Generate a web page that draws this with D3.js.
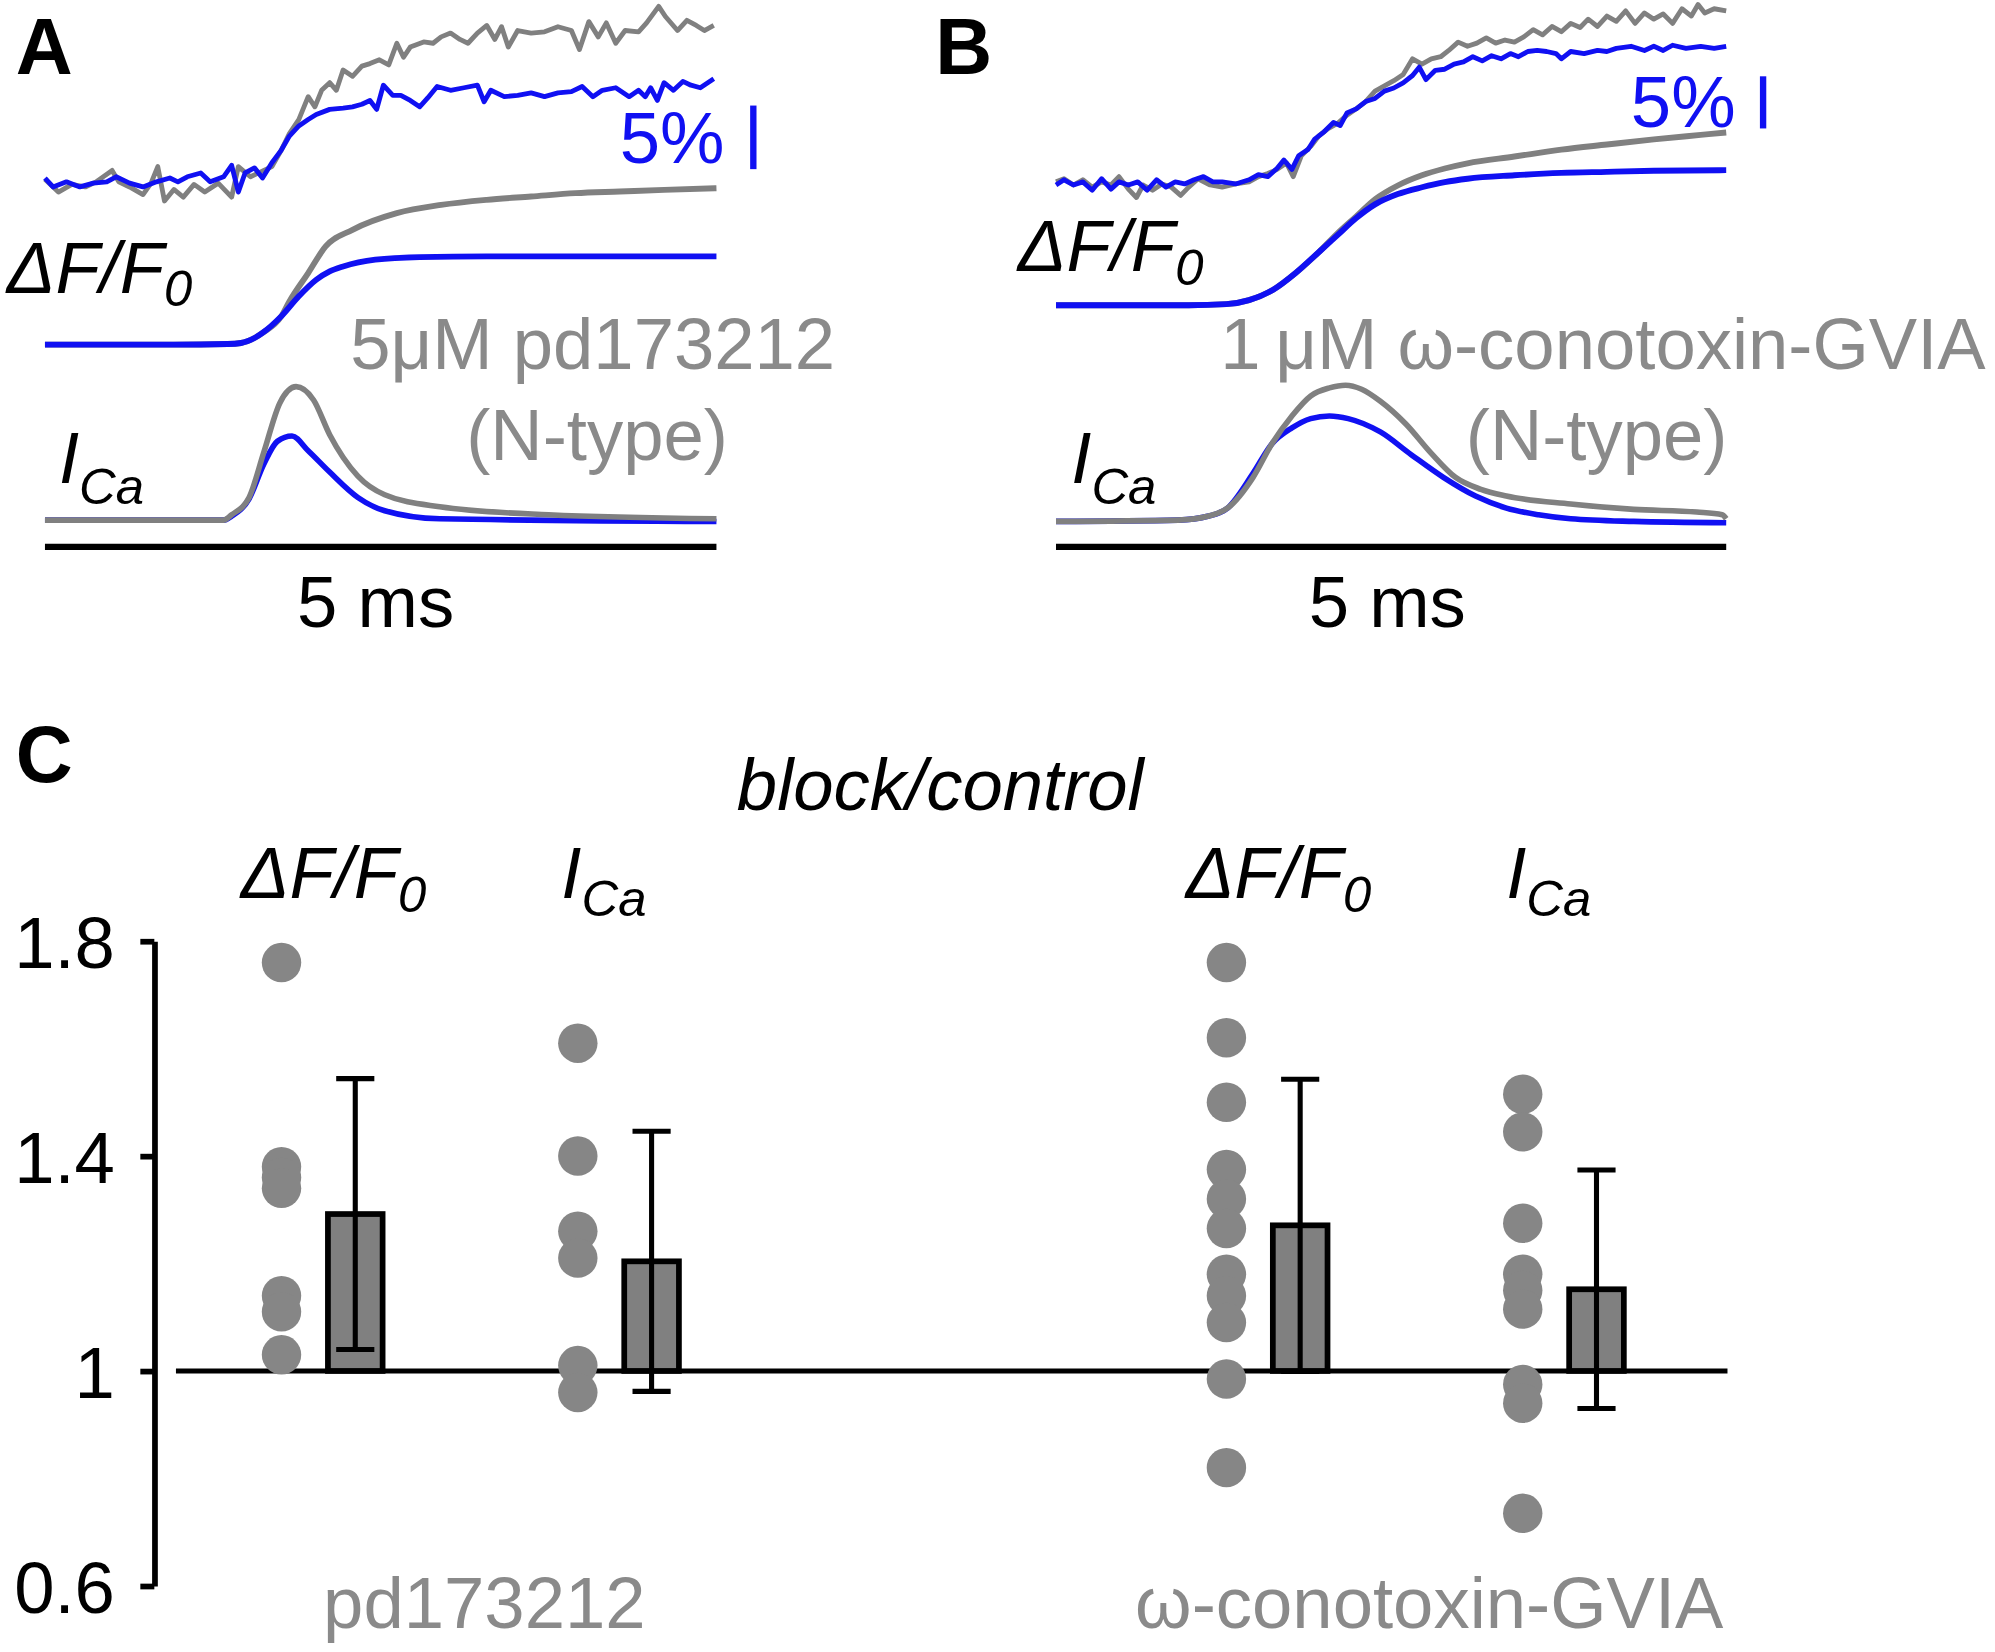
<!DOCTYPE html>
<html lang="en">
<head>
    <meta charset="UTF-8">
    <title>N-type block: dF/F0 and ICa</title>
    <script src="https://cdnjs.cloudflare.com/ajax/libs/d3/7.8.5/d3.min.js"></script>
    <style>
        body { margin: 0; background: #fff; }
        svg text { font-family: "Liberation Sans", Arial, sans-serif; }
    </style>
</head>
<body>
<svg id="fig"></svg>
<script>
    // ---- panel A / B traces: [time ms, value] ----
    // raw dF/F0 in %, control (gray) and block (blue)
    const pdRawControl = [[0,0.2],[0.1,-0.8],[0.2,-0.2],[0.3,-0.4],[0.38,0.0],[0.5,0.9],[0.55,0.0],[0.63,-0.4],[0.73,-1.0],[0.79,-0.1],[0.84,1.2],[0.89,-1.5],[0.96,-0.6],[1.03,-1.2],[1.11,-0.2],[1.19,-0.8],[1.29,-0.1],[1.39,-1.2],[1.44,1.2],[1.53,0.4],[1.63,0.9],[1.69,1.2],[1.76,2.5],[1.82,3.8],[1.89,4.9],[1.96,6.7],[2.01,5.9],[2.06,7.2],[2.12,7.8],[2.17,7.2],[2.22,8.8],[2.29,8.3],[2.36,9.1],[2.42,9.3],[2.49,9.6],[2.56,9.2],[2.62,10.9],[2.67,9.8],[2.72,10.6],[2.82,11.0],[2.89,10.9],[2.95,11.4],[3.02,11.7],[3.09,11.2],[3.15,10.9],[3.22,11.7],[3.29,12.3],[3.35,11.2],[3.4,12.2],[3.45,10.6],[3.52,11.9],[3.62,11.7],[3.72,11.8],[3.82,12.2],[3.92,11.9],[3.98,10.4],[4.05,12.6],[4.12,11.4],[4.18,12.5],[4.25,10.9],[4.32,11.9],[4.42,11.8],[4.48,12.5],[4.57,13.8],[4.62,13.0],[4.71,11.9],[4.78,12.7],[4.85,12.3],[4.91,11.9],[4.98,12.3]];
    const pdRawBlock = [[0,0.3],[0.06,-0.4],[0.16,0.0],[0.26,-0.4],[0.36,-0.1],[0.46,0.0],[0.53,0.4],[0.63,-0.1],[0.73,-0.4],[0.83,0.0],[0.93,0.3],[0.99,0.0],[1.06,0.4],[1.16,0.7],[1.23,0.0],[1.33,0.4],[1.39,1.3],[1.44,-0.8],[1.49,0.7],[1.56,1.1],[1.62,0.3],[1.69,1.5],[1.76,2.5],[1.82,3.6],[1.89,4.4],[1.96,4.9],[2.02,5.3],[2.12,5.7],[2.22,5.8],[2.29,5.9],[2.36,6.1],[2.42,6.4],[2.47,5.7],[2.52,7.6],[2.59,6.8],[2.65,6.8],[2.72,6.4],[2.79,5.9],[2.85,6.6],[2.92,7.5],[3.02,7.2],[3.12,7.4],[3.22,7.6],[3.27,6.3],[3.32,7.2],[3.42,6.7],[3.52,6.8],[3.62,7.0],[3.72,6.7],[3.82,7.0],[3.92,7.1],[4.0,7.5],[4.08,6.7],[4.15,7.2],[4.25,7.4],[4.35,6.7],[4.42,7.2],[4.47,6.7],[4.51,7.4],[4.56,6.4],[4.61,7.8],[4.68,7.2],[4.75,7.9],[4.81,7.6],[4.88,7.4],[4.98,8.1]];
    const ctxRawControl = [[0,0.0],[0.06,0.3],[0.13,-0.3],[0.2,0.2],[0.27,-0.5],[0.34,0.0],[0.41,-0.3],[0.47,0.5],[0.54,-0.7],[0.6,-1.5],[0.65,-0.3],[0.72,-0.8],[0.79,-0.2],[0.86,-0.5],[0.93,-1.3],[0.99,-0.5],[1.06,0.3],[1.15,-0.3],[1.24,-0.5],[1.34,-0.2],[1.44,0.0],[1.51,0.5],[1.58,0.8],[1.65,1.2],[1.72,1.8],[1.77,0.5],[1.83,2.5],[1.9,3.4],[1.96,4.4],[2.03,5.1],[2.1,5.6],[2.17,6.4],[2.24,7.0],[2.31,7.7],[2.38,8.7],[2.45,9.2],[2.52,9.7],[2.59,10.3],[2.66,11.8],[2.73,11.3],[2.8,11.8],[2.87,12.0],[2.93,12.6],[3.0,13.4],[3.07,13.0],[3.14,13.3],[3.21,13.8],[3.28,13.3],[3.35,13.6],[3.42,13.4],[3.49,13.9],[3.56,14.6],[3.63,14.1],[3.7,14.9],[3.77,14.4],[3.84,15.2],[3.91,14.8],[3.97,15.6],[4.04,14.9],[4.11,15.9],[4.18,15.4],[4.25,16.4],[4.32,15.2],[4.39,16.2],[4.46,15.6],[4.53,16.1],[4.6,15.2],[4.67,16.6],[4.74,15.9],[4.79,17.0],[4.84,16.2],[4.91,16.6],[5.0,16.4]];
    const ctxRawBlock = [[0,-0.3],[0.06,0.2],[0.13,-0.3],[0.2,0.0],[0.27,-0.8],[0.34,0.3],[0.41,-0.7],[0.47,0.0],[0.54,-0.3],[0.61,0.0],[0.68,-0.8],[0.75,0.2],[0.82,-0.5],[0.89,0.0],[0.96,-0.2],[1.03,0.2],[1.1,0.5],[1.17,0.0],[1.24,0.0],[1.34,-0.2],[1.44,0.2],[1.51,0.7],[1.58,0.5],[1.65,1.3],[1.7,2.1],[1.76,1.2],[1.81,2.5],[1.88,3.1],[1.93,4.1],[2.0,4.8],[2.07,5.7],[2.12,5.4],[2.17,6.6],[2.24,7.0],[2.31,7.7],[2.38,8.0],[2.45,8.7],[2.52,9.0],[2.59,9.5],[2.66,10.2],[2.71,11.0],[2.76,9.8],[2.83,10.7],[2.9,10.8],[2.97,11.3],[3.04,11.5],[3.11,12.0],[3.18,11.6],[3.25,12.1],[3.32,11.8],[3.39,12.3],[3.45,12.0],[3.52,12.5],[3.59,12.6],[3.66,12.5],[3.73,12.3],[3.77,11.8],[3.84,12.5],[3.94,12.3],[4.04,12.6],[4.11,12.5],[4.18,12.8],[4.29,13.0],[4.39,12.6],[4.46,13.0],[4.53,12.6],[4.6,13.1],[4.7,12.8],[4.81,13.0],[4.91,12.8],[5.0,13.0]];

    // fitted dF/F0 in %
    const pdFitControl = [[0,0],[0.96,0],[1.36,0.05],[1.46,0.13],[1.56,0.52],[1.62,0.92],[1.76,2.23],[1.82,3.4],[1.96,5.63],[2.09,7.72],[2.29,9.03],[2.62,10.34],[2.95,10.99],[3.29,11.39],[3.62,11.65],[3.95,11.91],[4.28,12.04],[4.61,12.17],[5.0,12.3]];
    const pdFitBlock = [[0,0],[0.96,0],[1.36,0.05],[1.46,0.13],[1.56,0.52],[1.62,0.92],[1.76,2.23],[1.89,3.8],[2.02,5.1],[2.12,5.76],[2.22,6.15],[2.46,6.68],[2.79,6.88],[3.29,6.94],[5.0,6.94]];
    const ctxFitControl = [[0,0],[0.99,0],[1.27,0.1],[1.44,0.49],[1.62,1.48],[1.79,3.11],[1.96,5.08],[2.1,6.89],[2.24,8.52],[2.38,10.16],[2.55,11.48],[2.73,12.46],[2.9,13.11],[3.07,13.61],[3.42,14.26],[3.77,14.92],[4.11,15.41],[4.46,15.9],[4.81,16.33],[5.0,16.56]];
    const ctxFitBlock = [[0,0],[0.99,0],[1.27,0.1],[1.44,0.49],[1.62,1.48],[1.79,3.11],[1.96,5.08],[2.1,6.72],[2.24,8.36],[2.38,9.67],[2.55,10.66],[2.73,11.31],[2.9,11.8],[3.07,12.13],[3.42,12.46],[3.77,12.69],[4.11,12.79],[4.46,12.89],[5.0,12.95]];

    // ICa, normalised to control peak
    const pdCaControl = [[0,0],[1.33,0],[1.39,0.04],[1.52,0.17],[1.63,0.51],[1.75,0.88],[1.87,1.0],[2.0,0.9],[2.12,0.64],[2.33,0.33],[2.53,0.19],[2.94,0.1],[3.75,0.04],[5.0,0.01]];
    const pdCaBlock = [[0,0],[1.33,0],[1.39,0.03],[1.52,0.16],[1.63,0.42],[1.73,0.59],[1.84,0.63],[1.96,0.52],[2.12,0.36],[2.33,0.17],[2.53,0.07],[2.94,0.01],[5.0,-0.01]];
    const ctxCaControl = [[0,0],[0.91,0.01],[1.14,0.04],[1.28,0.1],[1.47,0.33],[1.61,0.58],[1.76,0.79],[1.9,0.94],[2.04,1.0],[2.16,1.02],[2.28,0.99],[2.42,0.9],[2.61,0.73],[2.8,0.51],[2.98,0.33],[3.17,0.24],[3.36,0.19],[3.84,0.13],[4.31,0.09],[4.78,0.07],[4.97,0.05],[5.0,0.02]];
    const ctxCaBlock = [[0,0],[0.91,0.01],[1.14,0.04],[1.28,0.1],[1.47,0.36],[1.61,0.58],[1.76,0.7],[1.9,0.77],[2.04,0.79],[2.18,0.77],[2.42,0.67],[2.65,0.5],[2.89,0.33],[3.13,0.19],[3.36,0.1],[3.6,0.05],[3.84,0.02],[4.31,0],[5.0,-0.01]];

    const traceDurationMs = 5;
    const scaleBarPct = 5;

    // ---- panel C: block/control ratios ----
    const drugs = ["pd173212", "ω-conotoxin-GVIA"];
    const measures = ["dF", "ICa"];
    const pdDF = [1.76, 1.38, 1.36, 1.34, 1.14, 1.11, 1.03];
    const pdICa = [1.61, 1.40, 1.26, 1.21, 1.01, 0.96];
    const ctxDF = [1.76, 1.62, 1.50, 1.375, 1.32, 1.265, 1.18, 1.14, 1.09, 0.985, 0.82];
    const ctxICa = [1.515, 1.445, 1.275, 1.18, 1.15, 1.115, 0.975, 0.94, 0.735];
    const barMeans = [1.292, 1.204, 1.271, 1.152];
    const barSD = [0.252, 0.242, 0.272, 0.222];
    const yTicks = [0.6, 1.0, 1.4, 1.8];

    const GRAY = "#808080", BLUE = "#1010f2", LABEL_GRAY = "#8a8a8a";
    const FS = 57, SUB = 40;

    const svg = d3.select("#fig")
        .attr("width", 1995)
        .attr("height", 1652)
        .attr("viewBox", "0 0 1568 1299");

    function subText(x, y, main, sub, dy, color) {
        const t = svg.append("text")
            .attr("x", x).attr("y", y)
            .attr("font-size", FS)
            .attr("font-style", "italic")
            .attr("fill", color || "#000");
        t.append("tspan").text(main);
        t.append("tspan").attr("font-size", SUB).attr("dy", dy).text(sub);
        return t;
    }

    function plainText(x, y, s, opts) {
        opts = opts || {};
        return svg.append("text")
            .attr("x", x).attr("y", y)
            .attr("font-size", opts.size || FS)
            .attr("font-weight", opts.bold ? "bold" : null)
            .attr("font-style", opts.italic ? "italic" : null)
            .attr("text-anchor", opts.anchor || "start")
            .attr("fill", opts.color || "#000")
            .text(s);
    }

    // Panels A and B
    function drawTracePanel(p) {
        const x = d3.scaleLinear().domain([0, traceDurationMs]).range([p.x0, p.x1]);
        const yRaw = d3.scaleLinear().domain([0, scaleBarPct]).range([p.rawBase, p.rawBase - p.px5]);
        const yFit = d3.scaleLinear().domain([0, scaleBarPct]).range([p.fitBase, p.fitBase - p.px5]);
        const yCa = d3.scaleLinear().domain([0, 1]).range([p.caBase, p.caBase - 105]);

        const raw = d3.line().x(d => x(d[0])).y(d => yRaw(d[1]));
        const fit = d3.line().x(d => x(d[0])).y(d => yFit(d[1])).curve(d3.curveMonotoneX);
        const ca = d3.line().x(d => x(d[0])).y(d => yCa(d[1])).curve(d3.curveMonotoneX);

        const g = svg.append("g").attr("fill", "none").attr("stroke-linejoin", "round");
        g.append("path").attr("d", raw(p.rawControl)).attr("stroke", GRAY).attr("stroke-width", 3.8);
        g.append("path").attr("d", raw(p.rawBlock)).attr("stroke", BLUE).attr("stroke-width", 3.8);
        g.append("path").attr("d", fit(p.fitControl)).attr("stroke", GRAY).attr("stroke-width", 4.6);
        g.append("path").attr("d", fit(p.fitBlock)).attr("stroke", BLUE).attr("stroke-width", 4.6);
        g.append("path").attr("d", ca(p.caBlock)).attr("stroke", BLUE).attr("stroke-width", 4.4);
        g.append("path").attr("d", ca(p.caControl)).attr("stroke", GRAY).attr("stroke-width", 4.4);

        // 5 % scale bar
        const barLen = yRaw(0) - yRaw(scaleBarPct);
        svg.append("line")
            .attr("x1", p.barX).attr("x2", p.barX)
            .attr("y1", p.barBottom).attr("y2", p.barBottom - barLen)
            .attr("stroke", BLUE).attr("stroke-width", 5);
        plainText(p.pctX, p.pctY, "5%", { color: BLUE });

        // 5 ms time bar
        svg.append("line")
            .attr("x1", x(0)).attr("x2", x(traceDurationMs))
            .attr("y1", 430).attr("y2", 430)
            .attr("stroke", "#000").attr("stroke-width", 5);
        plainText((x(0) + x(traceDurationMs)) / 2 + p.msShift, 493, "5 ms", { anchor: "middle" });

        plainText(p.letterX, 58, p.letter, { bold: true, size: 62 });
        subText(p.dfX, p.dfY, "ΔF/F", "0", 11);
        subText(p.caX, 380, "I", "Ca", 16);
        plainText(p.drugX, 290, p.drugLabel, { color: LABEL_GRAY, anchor: p.drugAnchor });
        plainText(x(traceDurationMs) + p.ntypeShift, 362, "(N-type)", { color: LABEL_GRAY, anchor: "end" });
    }

    drawTracePanel({
        letter: "A", letterX: 12,
        x0: 35, x1: 563,
        rawBase: 143, fitBase: 271, caBase: 409, px5: 50,
        rawControl: pdRawControl, rawBlock: pdRawBlock,
        fitControl: pdFitControl, fitBlock: pdFitBlock,
        caControl: pdCaControl, caBlock: pdCaBlock,
        barX: 592, barBottom: 133, pctX: 487, pctY: 128,
        msShift: -4, dfX: 5, dfY: 230, caX: 46,
        drugLabel: "5μM pd173212", drugX: 275, drugAnchor: "start", ntypeShift: 9
    });

    drawTracePanel({
        letter: "B", letterX: 735,
        x0: 830, x1: 1357,
        rawBase: 143, fitBase: 240, caBase: 410, px5: 41,
        rawControl: ctxRawControl, rawBlock: ctxRawBlock,
        fitControl: ctxFitControl, fitBlock: ctxFitBlock,
        caControl: ctxCaControl, caBlock: ctxCaBlock,
        barX: 1386, barBottom: 101, pctX: 1282, pctY: 100,
        msShift: -3, dfX: 800, dfY: 213, caX: 842,
        drugLabel: "1\u2009μM ω-conotoxin-GVIA", drugX: 1561, drugAnchor: "end", ntypeShift: 1
    });

    // Panel C
    const y = d3.scaleLinear().domain([0.6, 1.8]).range([1247, 740]);
    const xDrug = d3.scaleBand().domain(drugs).range([-5, 1481]);
    const xMeas = d3.scaleBand().domain(measures).range([138.5, 604.5]);
    const slotCenter = (drug, m) => xDrug(drug) + xMeas(m) + xMeas.bandwidth() / 2;

    const groups = [
        { drug: drugs[0], m: "dF", values: pdDF },
        { drug: drugs[0], m: "ICa", values: pdICa },
        { drug: drugs[1], m: "dF", values: ctxDF },
        { drug: drugs[1], m: "ICa", values: ctxICa }
    ].map((g, i) => Object.assign(g, { mean: barMeans[i], sd: barSD[i], cx: slotCenter(g.drug, g.m) }));

    plainText(12, 615, "C", { bold: true, size: 62 });
    plainText(739, 637, "block/control", { italic: true, anchor: "middle" });

    const axis = d3.axisLeft(y)
        .tickValues(yTicks)
        .tickFormat(d => d === 1 ? "1" : d3.format(".1f")(d))
        .tickSize(11)
        .tickSizeOuter(0)
        .tickPadding(20);
    const ax = svg.append("g").attr("transform", "translate(121,0)").call(axis);
    ax.select(".domain").attr("stroke-width", 4.5);
    ax.selectAll(".tick line").attr("stroke-width", 4.5);
    ax.selectAll(".tick text")
        .attr("font-size", FS)
        .attr("font-family", "'Liberation Sans', Arial, sans-serif")
        .attr("fill", "#000")
        .attr("dy", "0.36em");

    // reference line at ratio 1
    svg.append("line")
        .attr("x1", 138).attr("x2", 1358)
        .attr("y1", y(1)).attr("y2", y(1))
        .attr("stroke", "#000").attr("stroke-width", 4);

    const barW = 43, capW = 30, dotOff = 29;
    groups.forEach(g => {
        const bx = g.cx + dotOff;
        svg.append("g").selectAll("circle")
            .data(g.values)
            .join("circle")
            .attr("cx", g.cx - dotOff)
            .attr("cy", d => y(d))
            .attr("r", 15.5)
            .attr("fill", "#868686");

        svg.append("rect")
            .attr("x", bx - barW / 2).attr("width", barW)
            .attr("y", y(g.mean)).attr("height", y(1) - y(g.mean))
            .attr("fill", "#808080").attr("stroke", "#000").attr("stroke-width", 4.5);

        const eb = svg.append("g").attr("stroke", "#000").attr("stroke-width", 4);
        eb.append("line").attr("x1", bx).attr("x2", bx)
            .attr("y1", y(g.mean + g.sd)).attr("y2", y(g.mean - g.sd));
        [g.mean + g.sd, g.mean - g.sd].forEach(v => {
            eb.append("line").attr("x1", bx - capW / 2).attr("x2", bx + capW / 2)
                .attr("y1", y(v)).attr("y2", y(v));
        });

        if (g.m === "dF") subText(g.cx - 61, 706, "ΔF/F", "0", 11);
        else subText(g.cx - 42, 706, "I", "Ca", 14);
    });

    drugs.forEach(d => {
        plainText(xDrug(d) + xDrug.bandwidth() / 2 + 14, 1280, d, { color: LABEL_GRAY, anchor: "middle" });
    });
</script>
</body>
</html>
